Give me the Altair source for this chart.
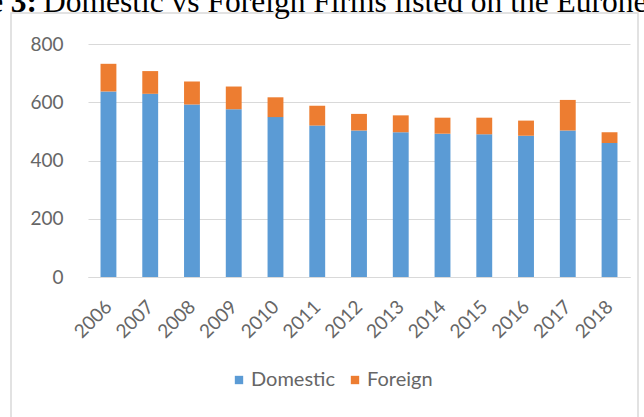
import altair as alt
import pandas as pd

years = [str(y) for y in range(2006, 2019)]
domestic = [637, 629, 592, 576, 549, 520, 503, 497, 492, 490, 485, 503, 460]
foreign = [95, 78, 79, 78, 68, 68, 57, 58, 55, 57, 52, 105, 37]
series = ["Domestic", "Foreign"]
colors = ["#5B9BD5", "#ED7D31"]
y_ticks = [0, 200, 400, 600, 800]
title_bold = "Figure 3:"
title_rest = "Domestic vs Foreign Firms listed on the Euronext"

rows = []
for i, yr in enumerate(years):
    rows.append({"year": yr, "series": "Domestic", "value": domestic[i], "ord": 0})
    rows.append({"year": yr, "series": "Foreign", "value": foreign[i], "ord": 1})
df = pd.DataFrame(rows)

AXIS_FONT = "Lato"
LABEL_COLOR = "#666666"
GRID = "#D9D9D9"

bars = alt.Chart(df).mark_bar().encode(
    x=alt.X("year:N", sort=years,
            scale=alt.Scale(paddingInner=0.62, paddingOuter=0.3),
            axis=alt.Axis(title=None, labelAngle=-45, labelFontSize=19,
                          labelFont=AXIS_FONT, labelColor=LABEL_COLOR,
                          ticks=False, domainColor=GRID, labelPadding=20,
                          labelOffset=-6)),
    y=alt.Y("value:Q", stack="zero",
            scale=alt.Scale(domain=[0, 800]),
            axis=alt.Axis(title=None, values=y_ticks, labelFontSize=19,
                          labelFont=AXIS_FONT, labelColor=LABEL_COLOR,
                          ticks=False, domain=False, gridColor=GRID,
                          labelPadding=25)),
    color=alt.Color("series:N", scale=alt.Scale(domain=series, range=colors),
                    legend=alt.Legend(title=None, orient="none", legendX=141,
                                      legendY=326, direction="horizontal",
                                      symbolType="square", symbolSize=70,
                                      labelFontSize=20, labelFont=AXIS_FONT,
                                      labelColor=LABEL_COLOR, columnPadding=10,
                                      labelOffset=2, symbolStrokeWidth=0)),
    order=alt.Order("ord:Q"),
)

one = pd.DataFrame({"k": [0]})

frame = alt.Chart(one).mark_rect(fillOpacity=0, stroke="#D9D9D9", strokeWidth=1.5).encode(
    x=alt.value(-77), x2=alt.value(550), y=alt.value(-31), y2=alt.value(400)
)

t1 = alt.Chart(one).mark_text(align="right", baseline="alphabetic",
                              font="Liberation Serif", fontSize=31.5,
                              fontWeight="bold", color="#000000").encode(
    x=alt.value(-51), y=alt.value(-32), text=alt.value(title_bold)
)
t2 = alt.Chart(one).mark_text(align="left", baseline="alphabetic",
                              font="Liberation Serif", fontSize=31.5,
                              color="#000000").encode(
    x=alt.value(-45), y=alt.value(-32), text=alt.value(title_rest)
)

chart = alt.layer(frame, bars, t1, t2).properties(
    width=542, height=233,
    autosize=alt.AutoSizeParams(type="none"),
    padding={"left": 88, "top": 44, "right": 14, "bottom": 140},
    background="white",
).configure_view(stroke=None)

chart.save("out.html", embed_options={"renderer": "svg", "actions": False})
